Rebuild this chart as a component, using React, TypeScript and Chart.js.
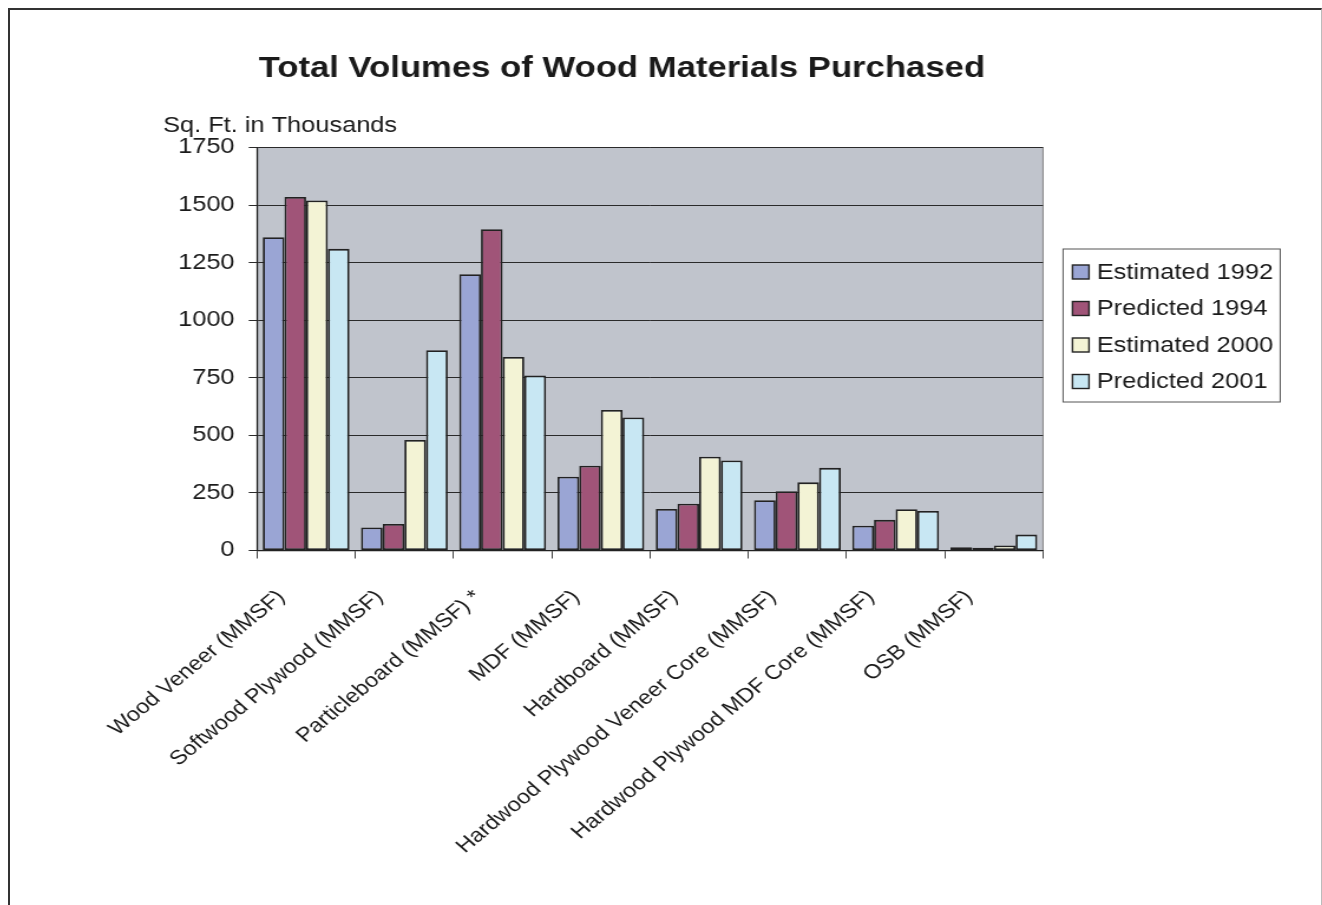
import React, { useEffect, useRef } from "react";
import { Chart, registerables } from "chart.js";

Chart.register(...registerables);

const categories = [
  "Wood Veneer (MMSF)",
  "Softwood Plywood (MMSF)",
  "Particleboard (MMSF) *",
  "MDF (MMSF)",
  "Hardboard (MMSF)",
  "Hardwood Plywood Veneer Core (MMSF)",
  "Hardwood Plywood MDF Core (MMSF)",
  "OSB (MMSF)",
];

const seriesLabels = ["Estimated 1992", "Predicted 1994", "Estimated 2000", "Predicted 2001"];
const estimated1992 = [1360, 100, 1200, 320, 180, 218, 108, 14];
const predicted1994 = [1535, 115, 1395, 368, 203, 257, 133, 12];
const estimated2000 = [1520, 480, 840, 610, 407, 296, 179, 22];
const predicted2001 = [1310, 870, 760, 578, 391, 359, 172, 69];
const seriesColors = ["#9AA5D4", "#A05478", "#F3F3D5", "#C8E7F3"];

const yTicks = [0, 250, 500, 750, 1000, 1250, 1500, 1750];
const titleText = "Total Volumes of Wood Materials Purchased";
const yTitleText = "Sq. Ft. in Thousands";

const FONT = "'Liberation Sans', Arial, sans-serif";
const PLOT_BG = "#C0C4CC";
const TEXT = "#1a1a1a";
const STRETCH = 1311 / 1111;

const decor = {
  id: "decor",
  beforeDraw(chart: any) {
    const { ctx, chartArea: a } = chart;
    ctx.save();
    ctx.fillStyle = PLOT_BG;
    ctx.fillRect(a.left, a.top, a.right - a.left, a.bottom - a.top);
    ctx.strokeStyle = "#808080";
    ctx.lineWidth = 1;
    ctx.strokeRect(a.left, a.top, a.right - a.left, a.bottom - a.top);
    ctx.restore();
  },
  afterDraw(chart: any) {
    const { ctx, chartArea: a } = chart;
    ctx.save();
    ctx.fillStyle = TEXT;
    ctx.font = `bold 29.4px ${FONT}`;
    ctx.textAlign = "center";
    ctx.textBaseline = "alphabetic";
    ctx.fillText(titleText, 518.5, 67);
    ctx.font = `21.5px ${FONT}`;
    ctx.textAlign = "left";
    ctx.fillText(yTitleText, 129.7, 121.5);
    const lx = a.right + 17;
    const ly = 239;
    const lw = 184;
    const lh = 153;
    ctx.fillStyle = "#ffffff";
    ctx.fillRect(lx, ly, lw, lh);
    ctx.strokeStyle = "#555";
    ctx.lineWidth = 1;
    ctx.strokeRect(lx, ly, lw, lh);
    const rows = [262, 298.5, 335, 371.5];
    chart.data.datasets.forEach((ds: any, i: number) => {
      const cy = rows[i];
      ctx.fillStyle = ds.backgroundColor;
      ctx.fillRect(lx + 8, cy - 7, 14, 14);
      ctx.strokeStyle = "#222";
      ctx.lineWidth = 1.4;
      ctx.strokeRect(lx + 8, cy - 7, 14, 14);
      ctx.fillStyle = TEXT;
      ctx.font = `21.5px ${FONT}`;
      ctx.textAlign = "left";
      ctx.textBaseline = "middle";
      ctx.fillText(ds.label, lx + 28.6, cy + 1);
    });
    ctx.restore();
  },
};

export default function App() {
  const ref = useRef<HTMLCanvasElement | null>(null);
  useEffect(() => {
    document.body.style.overflow = "hidden";
    const values = [estimated1992, predicted1994, estimated2000, predicted2001];
    const chart = new Chart(ref.current as HTMLCanvasElement, {
      type: "bar",
      data: {
        labels: categories,
        datasets: values.map((v, i) => ({
          label: seriesLabels[i],
          data: v,
          backgroundColor: seriesColors[i],
          borderColor: "#222222",
          borderWidth: 1.8,
          borderSkipped: false as any,
          categoryPercentage: 0.883,
          barPercentage: 1,
        })),
      },
      options: {
        animation: false,
        responsive: true,
        maintainAspectRatio: false,
        layout: { padding: { top: 137.5, right: 235.6, bottom: 0, left: 0 } },
        plugins: {
          legend: { display: false },
          title: { display: false },
          tooltip: { enabled: false },
        },
        scales: {
          x: {
            grid: {
              display: true,
              drawOnChartArea: false,
              drawTicks: true,
              tickLength: 8,
              color: "#444",
              offset: true,
            },
            border: { display: true, color: "#222", width: 1.2 },
            ticks: {
              autoSkip: false,
              maxRotation: 44,
              minRotation: 44,
              padding: 27,
              labelOffset: -21,
              color: TEXT,
              font: { family: FONT, size: 20 },
            },
            afterFit: (s: any) => {
              s.height = 354.5;
            },
          },
          y: {
            min: 0,
            max: 1750,
            afterBuildTicks: (s: any) => {
              s.ticks = yTicks.map((v) => ({ value: v }));
            },
            grid: {
              color: "#2a2a2a",
              lineWidth: 1,
              drawTicks: true,
              tickLength: 7,
            },
            border: { display: true, color: "#222", width: 1.2 },
            ticks: {
              padding: 12,
              color: TEXT,
              font: { family: FONT, size: 21.5 },
              callback: (v: any) => String(v),
            },
            afterFit: (s: any) => {
              s.width = 209.3;
            },
          },
        },
      },
      plugins: [decor],
    });
    return () => chart.destroy();
  }, []);

  return (
    <div
      style={{
        position: "absolute",
        left: 8,
        top: 8,
        width: 1311,
        height: 895,
        borderLeft: "2px solid #333",
        borderTop: "2px solid #333",
        borderRight: "1px solid #bbb",
        background: "#fff",
        overflow: "hidden",
      }}
    >
      <div
        style={{
          width: 1111,
          height: 895,
          transform: `scaleX(${STRETCH})`,
          transformOrigin: "0 0",
          position: "relative",
        }}
      >
        <canvas ref={ref} />
      </div>
    </div>
  );
}
